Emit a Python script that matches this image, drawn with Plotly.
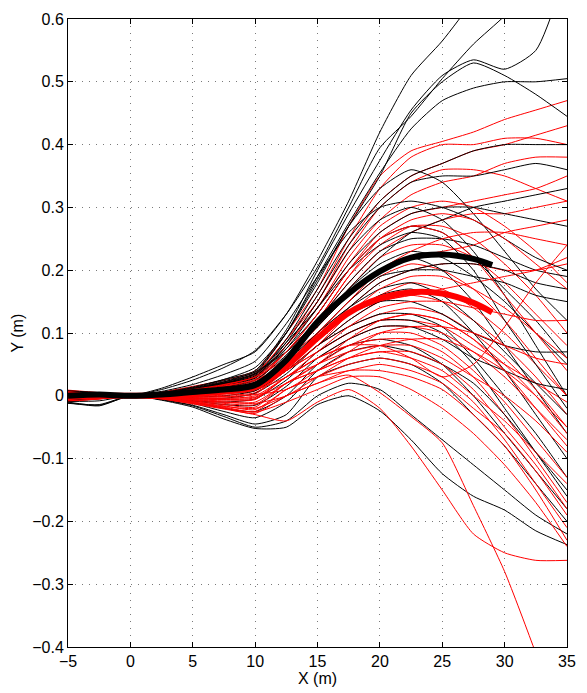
import plotly.graph_objects as go

xs = [-5, -2.5, 0, 2.5, 5, 7.5, 10, 12.5, 15, 17.5, 20, 22.5, 25, 27.5, 30, 32.5, 35]

black_runs = [
    [.004,.002,0,.012,.03,.05,.07,.13,.215,.31,.42,.51,.565,.63,.70,.76,.82],
    [.006,.003,0,.01,.025,.045,.072,.13,.205,.3,.395,.445,.505,.56,.605,.66,.72],
    [.002,.001,0,.005,.014,.026,.04,.105,.2,.29,.375,.455,.51,.535,.52,.55,.68],
    [.005,.002,0,.004,.012,.024,.038,.1,.19,.275,.355,.425,.47,.49,.5,.5,.505],
    [.001,0,0,.004,.011,.022,.036,.1,.185,.27,.35,.45,.5,.53,.51,.48,.445],
    [.003,.001,0,.003,.01,.02,.032,.09,.17,.25,.31,.35,.37,.39,.4,.4,.4],
    [-.002,-.001,0,.003,.008,.017,.03,.085,.16,.24,.3,.34,.35,.35,.36,.37,.36],
    [.007,.004,0,.005,.013,.026,.045,.1,.18,.27,.33,.36,.34,.29,.23,.17,.12],
    [0,.001,0,.004,.01,.02,.03,.08,.15,.23,.28,.3,.28,.23,.16,.08,0],
    [-.004,-.002,0,.003,.009,.018,.028,.075,.14,.21,.26,.29,.3,.3,.29,.28,.27],
    [.002,0,0,.003,.009,.02,.035,.075,.13,.2,.25,.27,.26,.22,.17,.12,.06],
    [-.006,-.004,0,.002,.008,.018,.03,.07,.12,.18,.23,.25,.25,.24,.22,.2,.19],
    [.004,.002,0,.002,.006,.014,.025,.065,.12,.17,.21,.23,.22,.19,.15,.1,.05],
    [-.008,-.005,0,.001,.004,.01,.02,.06,.11,.16,.2,.22,.2,.15,.08,.01,-.06],
    [.001,0,0,.001,.003,.008,.018,.055,.1,.15,.19,.2,.2,.19,.18,.16,.15],
    [-.003,-.002,0,0,.002,.006,.015,.05,.1,.14,.17,.18,.16,.12,.07,.02,-.03],
    [.003,.001,0,-.001,0,.004,.01,.045,.09,.13,.16,.17,.15,.1,.04,-.03,-.1],
    [-.01,-.015,0,-.002,-.002,0,.008,.04,.08,.12,.15,.15,.13,.1,.08,.07,.07],
    [0,-.001,0,-.003,-.005,-.004,.004,.035,.08,.11,.13,.13,.11,.06,0,-.06,-.13],
    [-.005,-.003,0,-.004,-.008,-.01,-.005,.025,.07,.1,.12,.12,.1,.05,-.02,-.09,-.16],
    [.002,.001,0,-.003,-.008,-.014,-.015,.015,.06,.09,.11,.11,.09,.06,.04,.02,.01],
    [-.007,-.004,0,-.004,-.01,-.02,-.025,0,.05,.08,.09,.08,.05,0,-.06,-.12,-.18],
    [0,0,0,-.005,-.012,-.025,-.035,-.01,.04,.07,.08,.07,.05,.02,-.03,-.09,-.15],
    [-.012,-.014,0,-.006,-.015,-.03,-.045,-.03,.03,.05,.06,.05,.02,-.03,-.08,-.14,-.2],
    [-.011,-.016,0,-.007,-.018,-.037,-.052,-.05,-.014,0,-.024,-.07,-.124,-.16,-.182,-.215,-.237],
    [-.009,-.008,0,-.006,-.016,-.033,-.05,-.04,0,.02,.01,-.03,-.07,-.11,-.15,-.19,-.22],
    [.005,.003,0,.004,.01,.02,.034,.085,.14,.2,.24,.26,.25,.2,.12,.05,-.02],
    [.008,.005,0,.007,.018,.034,.055,.115,.19,.26,.3,.31,.3,.28,.25,.22,.2],
    [-.001,0,0,.002,.006,.012,.022,.055,.09,.14,.18,.2,.21,.21,.2,.18,.17],
    [.002,.001,0,.004,.011,.022,.038,.07,.11,.17,.22,.26,.28,.3,.31,.32,.33],
]

red_runs = [
    [.006,.003,0,.006,.015,.025,.04,.1,.17,.27,.35,.39,.405,.42,.44,.455,.47],
    [.003,.002,0,.005,.013,.022,.036,.09,.16,.25,.33,.38,.4,.4,.41,.41,.4],
    [.008,.004,0,.005,.012,.02,.034,.09,.15,.24,.31,.35,.37,.39,.4,.415,.43],
    [.001,.001,0,.004,.011,.019,.032,.08,.15,.23,.3,.34,.36,.36,.35,.33,.31],
    [-.002,-.001,0,.004,.01,.018,.03,.08,.14,.22,.28,.32,.34,.35,.37,.38,.38],
    [.004,.002,0,.003,.009,.016,.028,.08,.14,.21,.27,.3,.31,.3,.27,.23,.18],
    [0,0,0,.003,.008,.015,.026,.07,.13,.2,.26,.29,.3,.31,.32,.33,.35],
    [.005,.003,0,.003,.008,.014,.024,.07,.12,.19,.24,.27,.27,.25,.21,.16,.1],
    [-.004,-.002,0,.002,.007,.013,.022,.07,.12,.18,.23,.26,.28,.29,.29,.3,.31],
    [.002,.001,0,.002,.006,.012,.02,.06,.11,.17,.22,.24,.24,.22,.18,.13,.08],
    [-.006,-.003,0,.002,.005,.011,.018,.06,.11,.16,.2,.22,.23,.24,.26,.27,.28],
    [.003,.001,0,.001,.004,.01,.016,.06,.1,.15,.19,.21,.2,.17,.12,.06,0],
    [-.001,0,0,.001,.004,.009,.015,.05,.1,.14,.18,.2,.21,.21,.2,.2,.21],
    [.007,.004,0,.001,.003,.008,.013,.05,.09,.13,.16,.18,.17,.14,.1,.05,0],
    [-.003,-.002,0,0,.002,.006,.011,.05,.09,.13,.15,.16,.15,.12,.08,.03,-.03],
    [.001,0,0,0,.001,.005,.01,.04,.08,.12,.15,.16,.17,.18,.19,.2,.22],
    [-.008,-.004,0,0,0,.003,.008,.04,.08,.11,.13,.14,.13,.1,.06,.01,-.05],
    [.004,.002,0,-.001,-.001,.001,.005,.04,.07,.1,.12,.13,.12,.09,.04,-.02,-.08],
    [-.005,-.003,0,-.001,-.002,-.001,.003,.04,.07,.1,.12,.12,.11,.08,.05,.02,-.01],
    [.002,.001,0,-.002,-.004,-.004,0,.03,.06,.09,.11,.11,.1,.07,.03,-.02,-.07],
    [-.007,-.004,0,-.002,-.005,-.006,-.003,.03,.06,.08,.1,.1,.08,.04,-.01,-.07,-.13],
    [.009,.005,0,-.002,-.006,-.008,-.006,.03,.05,.08,.09,.09,.07,.03,-.03,-.1,-.17],
    [-.002,-.001,0,-.003,-.007,-.01,-.01,.02,.05,.07,.08,.08,.06,.03,0,-.04,-.09],
    [.005,.003,0,-.003,-.008,-.012,-.014,.02,.04,.06,.07,.07,.05,.01,-.05,-.11,-.18],
    [-.009,-.005,0,-.003,-.009,-.014,-.018,.02,.04,.06,.07,.06,.04,0,-.04,-.09,-.14],
    [0,0,0,-.004,-.01,-.016,-.022,.01,.03,.05,.06,.05,.03,-.01,-.07,-.14,-.21],
    [.006,.003,0,-.004,-.011,-.018,-.025,.01,.03,.04,.05,.04,.02,-.02,-.06,-.12,-.19],
    [-.004,-.002,0,-.005,-.012,-.02,-.028,0,.02,.04,.04,.03,.01,-.03,-.08,-.15,-.23],
    [.003,.001,0,-.005,-.013,-.021,-.03,-.04,-.01,.01,-.02,-.08,-.15,-.22,-.25,-.262,-.262],
    [-.006,-.003,0,-.004,-.01,-.017,-.02,0,.02,.033,.005,-.033,-.075,-.175,-.28,-.41,-.55],
    [.002,.001,0,.003,.008,.015,.025,.05,.1,.15,.2,.23,.25,.26,.26,.25,.24],
    [-.003,-.001,0,.003,.009,.017,.03,.06,.12,.19,.25,.28,.29,.28,.25,.21,.17],
    [.004,.002,0,0,.002,.005,.01,.03,.07,.11,.14,.15,.15,.14,.13,.12,.12],
    [-.001,0,0,-.001,-.003,-.004,-.002,.02,.05,.09,.12,.13,.12,.09,.05,0,-.06],
    [.006,.003,0,.004,.01,.018,.03,.07,.13,.2,.25,.27,.26,.22,.16,.1,.04],
    [-.005,-.003,0,-.002,-.006,-.01,-.012,0,.03,.06,.08,.09,.09,.07,.04,0,-.05],
    [.001,0,0,-.001,-.002,-.002,.002,.01,.04,.07,.1,.11,.11,.1,.08,.06,.05],
    [-.002,-.001,0,-.002,-.004,-.006,-.005,.03,.06,.08,.08,.06,.03,.05,.11,.18,.24],
    [.003,.002,0,.001,.003,.007,.012,.04,.08,.13,.17,.19,.19,.17,.14,.1,.06],
    [-.008,-.005,0,-.004,-.011,-.019,-.026,-.01,.01,.03,.03,.01,-.02,-.06,-.11,-.17,-.24],
]

xm = [-5, -2.5, 0, 2.5, 5, 7.5, 10, 12.5, 15, 17.5, 20, 22.5, 25, 27.5, 29]
black_mean = [0, .002, 0, .002, .006, .01, .017, .057, .118, .163, .198, .22, .225, .218, .208]
red_mean = [0, 0, 0, 0, .003, .007, .014, .047, .092, .132, .155, .165, .163, .148, .133]

fig = go.Figure()

n = max(len(black_runs), len(red_runs))
for i in range(n):
    if i < len(black_runs):
        fig.add_trace(go.Scatter(x=xs, y=black_runs[i], mode="lines",
                                 line=dict(color="black", width=1, shape="spline", smoothing=0.6),
                                 showlegend=False, hoverinfo="skip"))
    if i < len(red_runs):
        fig.add_trace(go.Scatter(x=xs, y=red_runs[i], mode="lines",
                                 line=dict(color="#ff0000", width=1, shape="spline", smoothing=0.6),
                                 showlegend=False, hoverinfo="skip"))

fig.add_trace(go.Scatter(x=xm, y=red_mean, mode="lines",
                         line=dict(color="#ff0000", width=6, shape="spline", smoothing=0.8),
                         showlegend=False, hoverinfo="skip"))
fig.add_trace(go.Scatter(x=xm, y=black_mean, mode="lines",
                         line=dict(color="black", width=6, shape="spline", smoothing=0.8),
                         showlegend=False, hoverinfo="skip"))

axis_common = dict(
    showline=True, linecolor="black", linewidth=1, mirror="ticks",
    ticks="inside", ticklen=5, tickcolor="black", tickwidth=1,
    showgrid=True, gridcolor="#7a7a7a", griddash="1px,6px", gridwidth=1,
    zeroline=False,
    tickfont=dict(family="Liberation Sans, Arial, sans-serif", size=16, color="black"),
)

fig.update_xaxes(range=[-5, 35], tickvals=[-5, 0, 5, 10, 15, 20, 25, 30, 35], **axis_common)
fig.update_yaxes(range=[-0.4, 0.6], tickvals=[-0.4, -0.3, -0.2, -0.1, 0, 0.1, 0.2, 0.3, 0.4, 0.5, 0.6],
                 ticktext=["\u22120.4", "\u22120.3", "\u22120.2", "\u22120.1", "0", "0.1", "0.2", "0.3", "0.4", "0.5", "0.6"],
                 **axis_common)

fig.update_layout(
    width=587, height=693,
    margin=dict(l=68, r=11, t=12, b=46),
    paper_bgcolor="white", plot_bgcolor="white",
    font=dict(family="Liberation Sans, Arial, sans-serif", size=16, color="black"),
    annotations=[
        dict(text="X (m)", xref="paper", yref="paper", x=0.5, y=-0.0504, xanchor="center", yanchor="middle",
             showarrow=False, font=dict(size=16)),
        dict(text="Y (m)", xref="paper", yref="paper", x=-0.103, y=0.5, xanchor="center", yanchor="middle",
             textangle=-90, showarrow=False, font=dict(size=16)),
    ],
)

fig.write_html("out.html")
